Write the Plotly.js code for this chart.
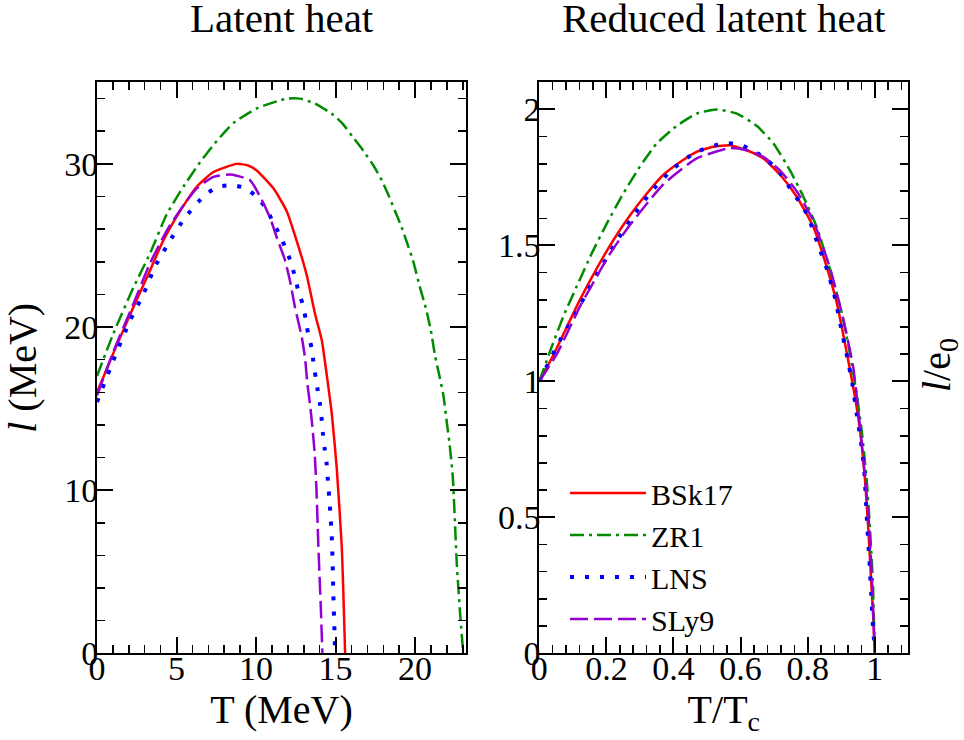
<!DOCTYPE html>
<html>
<head>
<meta charset="utf-8">
<script src="https://cdn.plot.ly/plotly-3.0.1.min.js"></script>
<style>
html,body{margin:0;padding:0;background:#fff}
#chart svg text{font-family:'Liberation Serif','Times New Roman',serif !important;}
</style>
</head>
<body>
<div id="chart" style="width:964px;height:740px"></div>
<script>
// ---- Left panel: latent heat l (MeV) vs T (MeV) ----
const T_BSk17 = [0, 1.03, 2.28, 3.12, 4.17, 5.22, 6.27, 7.32, 8.78, 9.5, 10.04, 11.09, 11.93, 12.55, 13.18, 13.71, 14.13, 14.44, 14.76, 15.07, 15.39, 15.6];
const l_BSk17 = [16.0, 18.4, 21.2, 23.0, 25.3, 27.1, 28.6, 29.5, 30.0, 29.9, 29.6, 28.5, 27.1, 25.3, 23.2, 20.8, 19.2, 17.1, 14.7, 11.4, 6.5, 0];

const T_ZR1 = [0, 1.03, 2.28, 3.33, 4.38, 5.43, 6.48, 7.53, 8.57, 10.04, 11.93, 12.77, 13.71, 14.86, 15.45, 16.12, 16.75, 17.38, 17.9, 18.32, 18.74, 19.16, 19.48, 19.89, 20.27, 20.69, 20.99, 21.26, 21.53, 21.78, 22.0, 22.16, 22.37, 22.62, 22.83, 23.0];
const l_ZR1 = [17.0, 19.6, 22.4, 24.5, 26.9, 28.6, 30.1, 31.4, 32.5, 33.4, 34.0, 34.0, 33.7, 33.0, 32.45, 31.6, 30.8, 29.9, 29.0, 28.1, 27.1, 26.1, 25.2, 24.0, 22.55, 21.1, 19.8, 18.2, 17.0, 15.8, 14.1, 12.9, 10.8, 5.5, 2.45, 0.3];

const T_LNS = [0, 1.03, 2.08, 2.91, 3.65, 4.59, 5.53, 6.79, 7.63, 8.51, 9.35, 10.14, 10.67, 11.09, 11.51, 11.87, 12.18, 12.45, 12.66, 12.93, 13.12, 13.27, 13.5, 13.6, 13.75, 13.88, 14.03, 14.13, 14.21, 14.32, 14.44, 14.51, 14.65, 14.76, 14.82, 14.86, 14.92, 14.97];
const l_LNS = [15.4, 17.96, 20.4, 22.0, 23.7, 25.3, 26.7, 28.1, 28.6, 28.7, 28.5, 27.9, 27.2, 26.4, 25.6, 24.8, 24.0, 23.06, 22.2, 21.4, 20.5, 19.6, 18.7, 17.9, 16.9, 16.1, 15.2, 14.3, 13.4, 12.5, 11.6, 10.7, 8.9, 7.2, 5.4, 3.6, 1.7, 0];

const T_SLy9 = [0, 1.03, 2.28, 3.33, 4.38, 5.32, 6.27, 7.32, 8.4, 9.62, 10.25, 10.88, 11.3, 11.82, 12.14, 12.45, 12.87, 13.08, 13.23, 13.4, 13.54, 13.69, 13.8, 13.92, 14.07, 14.17];
const l_SLy9 = [15.8, 18.5, 21.4, 23.9, 25.9, 27.3, 28.5, 29.2, 29.35, 29.0, 28.0, 26.7, 25.5, 24.1, 22.8, 21.2, 19.4, 18.1, 16.5, 15.2, 13.9, 12.2, 10.0, 6.5, 2.85, 0];

// ---- Right panel: reduced latent heat l/e0 vs T/Tc ----
const x_BSk17 = [0, 0.042, 0.082, 0.121, 0.171, 0.221, 0.270, 0.320, 0.370, 0.420, 0.469, 0.519, 0.569, 0.618, 0.668, 0.718, 0.767, 0.817, 0.857, 0.887, 0.917, 0.941, 0.956, 0.971, 0.981, 0.989, 0.996, 1.0];
const y_BSk17 = [1.0, 1.097, 1.20, 1.30, 1.415, 1.52, 1.61, 1.69, 1.76, 1.807, 1.844, 1.863, 1.868, 1.85, 1.82, 1.76, 1.68, 1.568, 1.42, 1.287, 1.103, 0.943, 0.82, 0.637, 0.453, 0.27, 0.123, 0];

const x_ZR1 = [0, 0.037, 0.072, 0.111, 0.156, 0.201, 0.250, 0.300, 0.350, 0.410, 0.469, 0.529, 0.589, 0.648, 0.698, 0.747, 0.787, 0.827, 0.867, 0.902, 0.926, 0.946, 0.961, 0.976, 0.986, 0.994, 1.0];
const y_ZR1 = [1.0, 1.127, 1.24, 1.348, 1.47, 1.58, 1.69, 1.79, 1.875, 1.94, 1.985, 2.0, 1.985, 1.94, 1.875, 1.777, 1.68, 1.568, 1.41, 1.25, 1.103, 0.955, 0.82, 0.637, 0.453, 0.27, 0.01];

const x_LNS = [0, 0.022, 0.062, 0.106, 0.146, 0.191, 0.236, 0.283, 0.335, 0.397, 0.467, 0.549, 0.593, 0.636, 0.670, 0.703, 0.730, 0.752, 0.777, 0.800, 0.829, 0.859, 0.882, 0.899, 0.917, 0.933, 0.946, 0.959, 0.969, 0.976, 0.984, 0.991, 0.996, 1.0];
const y_LNS = [1.0, 1.054, 1.152, 1.244, 1.338, 1.434, 1.526, 1.614, 1.70, 1.78, 1.843, 1.876, 1.872, 1.85, 1.823, 1.788, 1.746, 1.70, 1.658, 1.611, 1.51, 1.407, 1.305, 1.20, 1.095, 0.993, 0.882, 0.777, 0.668, 0.505, 0.343, 0.184, 0.074, 0.02];

const x_SLy9 = [0, 0.052, 0.121, 0.211, 0.270, 0.370, 0.469, 0.569, 0.618, 0.668, 0.718, 0.767, 0.817, 0.867, 0.907, 0.936, 0.963, 0.981, 0.991, 1.0];
const y_SLy9 = [1.0, 1.10, 1.275, 1.47, 1.575, 1.725, 1.82, 1.858, 1.85, 1.826, 1.775, 1.70, 1.59, 1.415, 1.225, 1.05, 0.75, 0.51, 0.29, 0];

const seriesNames = ['BSk17', 'ZR1', 'LNS', 'SLy9'];
const xTickVals = [0, 5, 10, 15, 20];

const styles = {
  BSk17: {color: '#ff0000', width: 2.5, dash: 'solid'},
  ZR1:   {color: '#008b00', width: 2.5, dash: '14px,5px,3px,5px'},
  LNS:   {color: '#0000ff', width: 4,   dash: '4px,11px'},
  SLy9:  {color: '#9400d3', width: 2.5, dash: '18px,6px'}
};

const leftData = {BSk17: [T_BSk17, l_BSk17], ZR1: [T_ZR1, l_ZR1], LNS: [T_LNS, l_LNS], SLy9: [T_SLy9, l_SLy9]};
const rightData = {BSk17: [x_BSk17, y_BSk17], ZR1: [x_ZR1, y_ZR1], LNS: [x_LNS, y_LNS], SLy9: [x_SLy9, y_SLy9]};

const FONT = 'Liberation Serif';

const traces = [];
seriesNames.forEach(n => {
  traces.push({x: leftData[n][0], y: leftData[n][1], xaxis: 'x', yaxis: 'y', mode: 'lines',
    name: n, showlegend: false, line: Object.assign({shape: 'spline', smoothing: 0.5}, styles[n]), hoverinfo: 'skip'});
});
seriesNames.forEach(n => {
  traces.push({x: rightData[n][0], y: rightData[n][1], xaxis: 'x2', yaxis: 'y2', mode: 'lines',
    name: n, showlegend: true,
    line: Object.assign({shape: 'spline', smoothing: 0.5}, styles[n]), hoverinfo: 'skip'});
});

const yDom = [1 - 653.3/740, 1 - 82.3/740];

function axisBase(extra) {
  return Object.assign({
    showline: true, linewidth: 2, linecolor: '#000', mirror: 'allticks',
    ticks: 'inside', ticklen: 16, tickwidth: 2, tickcolor: '#000',
    showgrid: false, zeroline: false, fixedrange: true,
    tickfont: {family: FONT, size: 34, color: '#000'}
  }, extra);
}
function minorTicks(d) {
  return {dtick: d, ticks: 'inside', ticklen: 8, tickwidth: 1.5, tickcolor: '#000', showgrid: false};
}

const layout = {
  width: 964, height: 740,
  margin: {l: 0, r: 0, t: 0, b: 0},
  paper_bgcolor: '#fff', plot_bgcolor: '#fff',
  font: {family: FONT, color: '#000', size: 34},
  xaxis: axisBase({domain: [97/964, 466/964], range: [0, 23.2], tickvals: xTickVals, anchor: 'y',
    ticklabelstandoff: -16, minor: minorTicks(1),
    title: {text: 'T (MeV)', font: {family: FONT, size: 40, color: '#000'}, standoff: 4}}),
  yaxis: axisBase({domain: yDom, range: [0, 35], dtick: 10, anchor: 'x',
    ticklabelstandoff: -10, minor: minorTicks(2),
    title: {text: '<i>l</i> (MeV)', font: {family: FONT, size: 40, color: '#000'}, standoff: 16}}),
  xaxis2: axisBase({domain: [539.3/964, 908.3/964], range: [0, 1.1], dtick: 0.2, anchor: 'y2',
    ticklabelstandoff: -16, minor: minorTicks(0.04),
    title: {text: 'T/T<sub>c</sub>', font: {family: FONT, size: 40, color: '#000'}, standoff: 4}}),
  yaxis2: axisBase({domain: yDom, range: [0, 2.1], dtick: 0.5, anchor: 'x2',
    ticklabelstandoff: -10, minor: minorTicks(0.1)}),
  showlegend: true,
  legend: {x: 565/964, y: 1 - 467/740, xanchor: 'left', yanchor: 'top',
    bgcolor: 'rgba(0,0,0,0)', borderwidth: 0, itemwidth: 76, tracegroupgap: 0,
    font: {family: FONT, size: 30, color: '#000'}},
  annotations: [
    {text: 'Latent heat', xref: 'paper', yref: 'paper', x: 281.5/964, y: 1 - 18/740,
     xanchor: 'center', yanchor: 'middle', showarrow: false, font: {family: FONT, size: 41, color: '#000'}},
    {text: 'Reduced latent heat', xref: 'paper', yref: 'paper', x: 723.8/964, y: 1 - 18/740,
     xanchor: 'center', yanchor: 'middle', showarrow: false, font: {family: FONT, size: 41, color: '#000'}},
    {text: '<i>l</i>/e<sub>0</sub>', xref: 'paper', yref: 'paper', x: 939/964, y: 1 - 365/740,
     xanchor: 'center', yanchor: 'middle', textangle: -90, showarrow: false, font: {family: FONT, size: 40, color: '#000'}}
  ]
};

Plotly.newPlot('chart', traces, layout, {staticPlot: true, displayModeBar: false});
</script>
</body>
</html>
